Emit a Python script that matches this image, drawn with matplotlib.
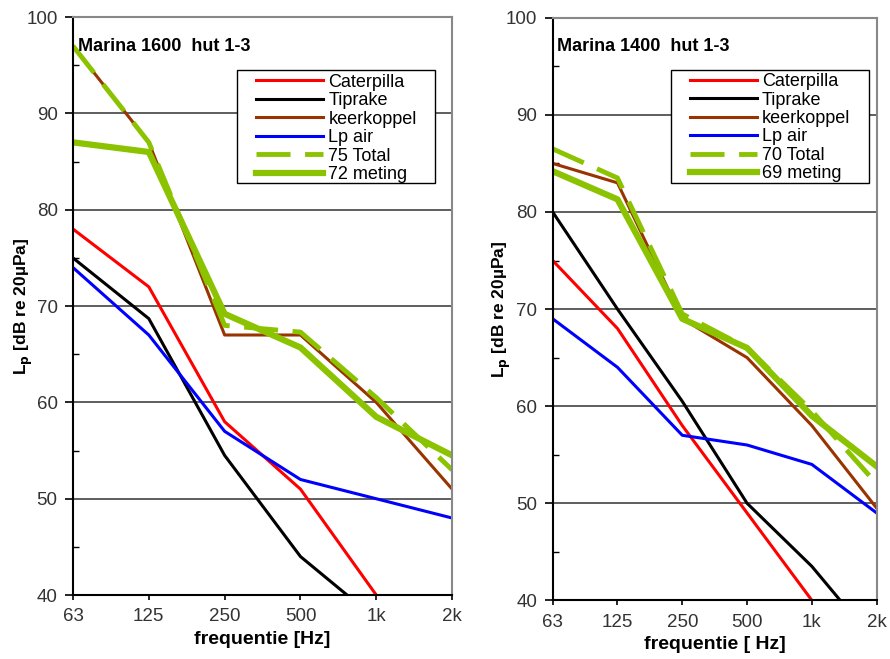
import numpy as np
import matplotlib
matplotlib.use("Agg")
import matplotlib.pyplot as plt
from matplotlib.patches import Rectangle
from matplotlib.ticker import MultipleLocator

plt.rcParams['font.family'] = ['Liberation Sans', 'DejaVu Sans']

freqs = ['63', '125', '250', '500', '1k', '2k']

# Marina 1600 hut 1-3
left_caterpilla = [78, 72, 58, 51, 40, 30]
left_tiprake = [75, 68.7, 54.5, 44, 37.5, 31]
left_keerkoppel = [97, 87, 67, 67, 60, 51]
left_lpair = [74, 67, 57, 52, 50, 48]
left_total = [97, 87, 68, 67.3, 60.5, 53]
left_meting = [87, 86, 69.2, 65.7, 58.5, 54.5]
left_labels = ['Caterpilla', 'Tiprake', 'keerkoppel', 'Lp air', '75 Total', '72 meting']

# Marina 1400 hut 1-3
right_caterpilla = [75, 68, 58, 49, 40, 31]
right_tiprake = [80, 70, 60.5, 50, 43.5, 35.5]
right_keerkoppel = [85, 83, 69, 65, 58, 49.5]
right_lpair = [69, 64, 57, 56, 54, 49]
right_total = [86.5, 83.5, 69.5, 66, 59.5, 52]
right_meting = [84.2, 81.3, 69, 66, 59, 53.8]
right_labels = ['Caterpilla', 'Tiprake', 'keerkoppel', 'Lp air', '70 Total', '69 meting']

green = '#8cc300'


def draw_panel(ax, series, labels, title, xlabel, ylab_x, box, leg_anchor):
    x = np.arange(len(freqs))
    cat, tip, keer, lp, tot, met = series
    ax.plot(x, cat, color='red', lw=2.2, label=labels[0])
    ax.plot(x, tip, color='black', lw=2.2, label=labels[1])
    ax.plot(x, keer, color='#993300', lw=2.2, label=labels[2])
    ax.plot(x, lp, color='blue', lw=2.2, label=labels[3])
    ax.plot(x, tot, color=green, lw=3.5, dashes=(7, 3), label=labels[4])
    ax.plot(x, met, color=green, lw=4.5, label=labels[5])

    ax.set_xlim(0, len(freqs) - 1)
    ax.set_ylim(40, 100)
    ax.set_xticks(x)
    ax.set_xticklabels(freqs)
    ax.yaxis.set_major_locator(MultipleLocator(10))
    ax.yaxis.set_minor_locator(MultipleLocator(5))
    ax.grid(axis='y', which='major', color='#333333', lw=1.1)
    ax.tick_params(axis='both', which='major', labelsize=13.5, labelcolor='#333333', width=1.2)
    ax.tick_params(axis='y', which='major', length=6, pad=5)
    ax.tick_params(axis='x', which='major', length=3.5, pad=6)
    ax.tick_params(axis='y', which='minor', direction='in', length=4, width=1)
    for side in ['left', 'bottom']:
        ax.spines[side].set_color('black')
        ax.spines[side].set_linewidth(1.5)
    for side in ['top', 'right']:
        ax.spines[side].set_color('#888888')
        ax.spines[side].set_linewidth(1.5)

    ax.text(0.012, 0.95, title, transform=ax.transAxes, fontsize=13,
            fontweight='bold', va='center', ha='left')
    ax.set_xlabel(xlabel, fontsize=14, fontweight='bold', labelpad=4)
    ax.set_ylabel(r'L$_\mathbf{p}$ [dB re 20µPa]', fontsize=12.5, fontweight='bold')
    ax.yaxis.set_label_coords(ylab_x, 0.5)

    # legend frame drawn separately (wide side margins like the original)
    bx0, by0, bx1, by1 = box
    ax.add_patch(Rectangle((bx0, by0), bx1 - bx0, by1 - by0, transform=ax.transAxes,
                           facecolor='white', edgecolor='black', lw=1.0, zorder=4))
    leg = ax.legend(loc='upper left', bbox_to_anchor=leg_anchor, fontsize=13,
                    frameon=False, handlelength=3.7, handletextpad=0.3,
                    labelspacing=0.08, borderpad=0, borderaxespad=0)
    leg.set_zorder(5)


fig = plt.figure(figsize=(8.9, 6.59), dpi=100)
ax1 = fig.add_axes([0.082, 0.097, 0.426, 0.877])
ax2 = fig.add_axes([0.621, 0.089, 0.364, 0.884])

draw_panel(ax1, [left_caterpilla, left_tiprake, left_keerkoppel, left_lpair, left_total, left_meting],
           left_labels, 'Marina 1600  hut 1-3', 'frequentie [Hz]', -0.10,
           (0.433, 0.713, 0.955, 0.908), (0.483, 0.902))
draw_panel(ax2, [right_caterpilla, right_tiprake, right_keerkoppel, right_lpair, right_total, right_meting],
           right_labels, 'Marina 1400  hut 1-3', 'frequentie [ Hz]', -0.124,
           (0.364, 0.716, 0.975, 0.911), (0.423, 0.905))

fig.savefig('out.png', dpi=100)
